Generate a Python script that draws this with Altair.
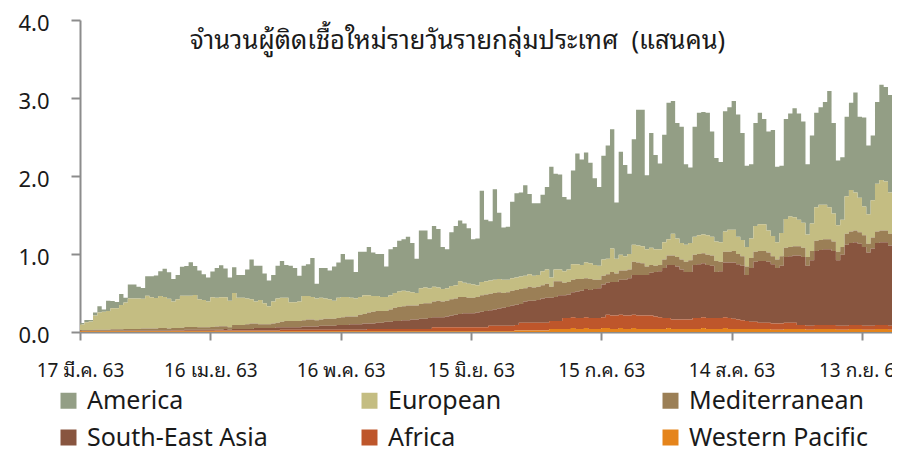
import json
from datetime import datetime

import altair as alt
import pandas as pd

# ---------------- data (units: 100,000 persons) ----------------
start_date = "2020-03-17"

title_text = "จำนวนผู้ติดเชื้อใหม่รายวันรายกลุ่มประเทศ\u00a0\u00a0(แสนคน)"

regions = ["America", "European", "Mediterranean",
           "South-East Asia", "Africa", "Western Pacific"]
region_colors = ["#939E85", "#C4BD82", "#9B7F56", "#88553F", "#BE562B", "#E5841B"]
# stacking position from the bottom
stack_position = ["Western Pacific", "Africa", "South-East Asia",
                  "Mediterranean", "European", "America"]

tick_dates = ["2020-03-17", "2020-04-16", "2020-05-16", "2020-06-15",
              "2020-07-15", "2020-08-14", "2020-09-13"]
tick_labels = ["17 มี.ค. 63", "16 เม.ย. 63", "16 พ.ค. 63", "15 มิ.ย. 63",
               "15 ก.ค. 63", "14 ส.ค. 63", "13 ก.ย. 63"]
y_ticks = [0, 1, 2, 3, 4]

america = [
    0.02, 0.03, 0.02, 0.04, 0.08, 0.03, 0.13,
    0.09, 0.08, 0.14, 0.06, 0.18, 0.18, 0.15,
    0.14, 0.25, 0.27, 0.29, 0.32, 0.36, 0.34,
    0.29, 0.31, 0.37, 0.38, 0.43, 0.37, 0.37,
    0.33, 0.31, 0.33, 0.38, 0.41, 0.37, 0.30,
    0.33, 0.29, 0.29, 0.37, 0.51, 0.46, 0.44,
    0.38, 0.33, 0.34, 0.42, 0.47, 0.42, 0.47,
    0.44, 0.33, 0.39, 0.41, 0.50, 0.19, 0.38,
    0.39, 0.37, 0.44, 0.45, 0.55, 0.48, 0.49,
    0.34, 0.58, 0.56, 0.62, 0.56, 0.54, 0.55,
    0.39, 0.59, 0.59, 0.65, 0.66, 0.70, 0.63,
    0.44, 0.74, 0.73, 0.63, 0.78, 0.75, 0.54,
    0.50, 0.69, 0.76, 0.78, 0.76, 0.71, 0.58,
    0.60, 1.17, 0.79, 0.76, 1.16, 0.85, 0.67,
    0.68, 0.98, 1.08, 1.08, 1.16, 1.03, 0.93,
    0.92, 0.98, 1.06, 1.42, 1.23, 1.22, 0.95,
    0.90, 1.20, 1.42, 1.35, 1.41, 1.29, 1.11,
    1.01, 1.33, 1.45, 1.53, 0.72, 1.32, 1.17,
    1.03, 1.35, 1.74, 1.75, 0.95, 1.47, 1.21,
    1.10, 1.38, 1.75, 1.70, 1.48, 1.49, 1.03,
    0.97, 1.41, 1.57, 1.57, 1.57, 1.35, 1.07,
    1.03, 1.54, 1.57, 1.65, 1.57, 1.37, 1.04,
    0.95, 1.32, 1.43, 1.35, 1.27, 1.36, 0.97,
    0.86, 1.28, 1.32, 1.40, 1.36, 1.30, 0.90,
    1.13, 1.21, 1.25, 1.32, 1.49, 1.16, 0.83,
    0.80, 1.02, 1.12, 1.28, 1.04, 1.14, 0.88,
    0.83, 1.05, 1.22, 1.21, 1.25, 1.07, 0.60,
]

european = [
    0.07, 0.10, 0.11, 0.18, 0.22, 0.23, 0.24,
    0.27, 0.27, 0.31, 0.34, 0.39, 0.39, 0.39,
    0.38, 0.42, 0.40, 0.39, 0.41, 0.40, 0.38,
    0.34, 0.37, 0.41, 0.40, 0.40, 0.41, 0.36,
    0.35, 0.33, 0.38, 0.37, 0.37, 0.37, 0.34,
    0.41, 0.35, 0.35, 0.33, 0.31, 0.28, 0.31,
    0.27, 0.23, 0.28, 0.31, 0.31, 0.30, 0.24,
    0.24, 0.25, 0.31, 0.30, 0.29, 0.28, 0.28,
    0.26, 0.25, 0.23, 0.26, 0.26, 0.25, 0.24,
    0.23, 0.23, 0.24, 0.22, 0.20, 0.19, 0.18,
    0.18, 0.18, 0.19, 0.20, 0.20, 0.18, 0.17,
    0.16, 0.20, 0.20, 0.19, 0.19, 0.17, 0.16,
    0.16, 0.17, 0.17, 0.20, 0.18, 0.18, 0.17,
    0.15, 0.17, 0.17, 0.17, 0.17, 0.17, 0.17,
    0.16, 0.16, 0.16, 0.16, 0.16, 0.16, 0.15,
    0.15, 0.18, 0.18, 0.12, 0.15, 0.15, 0.15,
    0.16, 0.20, 0.19, 0.18, 0.20, 0.20, 0.19,
    0.18, 0.21, 0.20, 0.30, 0.19, 0.20, 0.18,
    0.20, 0.22, 0.22, 0.22, 0.22, 0.22, 0.21,
    0.20, 0.22, 0.21, 0.28, 0.24, 0.21, 0.22,
    0.22, 0.23, 0.24, 0.24, 0.25, 0.24, 0.25,
    0.25, 0.26, 0.28, 0.27, 0.22, 0.21, 0.25,
    0.25, 0.33, 0.34, 0.34, 0.28, 0.26, 0.22,
    0.30, 0.37, 0.39, 0.37, 0.34, 0.32, 0.29,
    0.35, 0.43, 0.45, 0.44, 0.41, 0.36, 0.34,
    0.35, 0.48, 0.53, 0.49, 0.44, 0.37, 0.38,
    0.48, 0.61, 0.65, 0.63, 0.53, 0.51, 0.50,
]

mediterranean = [
    0.010, 0.010, 0.010, 0.015, 0.015, 0.015, 0.015,
    0.020, 0.020, 0.020, 0.020, 0.020, 0.020, 0.020,
    0.025, 0.025, 0.025, 0.025, 0.030, 0.030, 0.025,
    0.030, 0.030, 0.035, 0.035, 0.035, 0.035, 0.030,
    0.030, 0.030, 0.035, 0.040, 0.045, 0.035, 0.030,
    0.05, 0.05, 0.05, 0.06, 0.07, 0.06, 0.05,
    0.05, 0.05, 0.06, 0.06, 0.07, 0.08, 0.08,
    0.08, 0.08, 0.08, 0.09, 0.09, 0.08, 0.08,
    0.09, 0.09, 0.09, 0.09, 0.10, 0.11, 0.10,
    0.10, 0.12, 0.12, 0.14, 0.15, 0.15, 0.15,
    0.14, 0.16, 0.17, 0.18, 0.18, 0.19, 0.18,
    0.18, 0.19, 0.20, 0.19, 0.20, 0.21, 0.20,
    0.20, 0.21, 0.21, 0.22, 0.21, 0.20, 0.20,
    0.20, 0.21, 0.21, 0.21, 0.21, 0.21, 0.19,
    0.19, 0.19, 0.19, 0.19, 0.17, 0.18, 0.17,
    0.17, 0.17, 0.18, 0.14, 0.20, 0.18, 0.16,
    0.16, 0.16, 0.16, 0.15, 0.14, 0.14, 0.12,
    0.11, 0.11, 0.11, 0.13, 0.11, 0.12, 0.12,
    0.11, 0.17, 0.16, 0.15, 0.11, 0.10, 0.08,
    0.08, 0.11, 0.12, 0.12, 0.12, 0.13, 0.13,
    0.15, 0.13, 0.13, 0.13, 0.13, 0.13, 0.14,
    0.12, 0.14, 0.14, 0.15, 0.13, 0.12, 0.11,
    0.13, 0.13, 0.13, 0.13, 0.12, 0.10, 0.11,
    0.12, 0.12, 0.12, 0.12, 0.12, 0.12, 0.11,
    0.12, 0.13, 0.13, 0.13, 0.13, 0.12, 0.11,
    0.10, 0.14, 0.15, 0.15, 0.15, 0.15, 0.11,
    0.14, 0.15, 0.15, 0.15, 0.15, 0.13, 0.12,
]

south_east_asia = [
    0.003, 0.003, 0.003, 0.003, 0.003, 0.003, 0.003,
    0.004, 0.004, 0.004, 0.004, 0.004, 0.006, 0.006,
    0.006, 0.006, 0.006, 0.006, 0.006, 0.006, 0.006,
    0.005, 0.005, 0.005, 0.014, 0.014, 0.014, 0.014,
    0.014, 0.014, 0.014, 0.010, 0.010, 0.020, 0.010,
    0.02, 0.02, 0.02, 0.02, 0.02, 0.03, 0.03,
    0.03, 0.03, 0.03, 0.04, 0.03, 0.03, 0.03,
    0.03, 0.03, 0.04, 0.04, 0.04, 0.04, 0.05,
    0.05, 0.05, 0.05, 0.06, 0.06, 0.06, 0.07,
    0.07, 0.07, 0.08, 0.07, 0.07, 0.08, 0.08,
    0.09, 0.09, 0.10, 0.10, 0.11, 0.11, 0.12,
    0.12, 0.13, 0.13, 0.14, 0.13, 0.13, 0.13,
    0.14, 0.15, 0.16, 0.17, 0.18, 0.18, 0.18,
    0.19, 0.20, 0.21, 0.20, 0.21, 0.22, 0.23,
    0.24, 0.26, 0.26, 0.24, 0.27, 0.28, 0.28,
    0.29, 0.31, 0.32, 0.30, 0.31, 0.33, 0.29,
    0.30, 0.32, 0.34, 0.35, 0.36, 0.36, 0.37,
    0.38, 0.42, 0.41, 0.43, 0.43, 0.45, 0.46,
    0.48, 0.51, 0.52, 0.52, 0.52, 0.55, 0.57,
    0.59, 0.64, 0.68, 0.70, 0.68, 0.64, 0.61,
    0.61, 0.68, 0.69, 0.69, 0.68, 0.67, 0.59,
    0.60, 0.70, 0.71, 0.72, 0.71, 0.70, 0.59,
    0.69, 0.77, 0.79, 0.79, 0.78, 0.76, 0.71,
    0.74, 0.84, 0.85, 0.86, 0.89, 0.87, 0.77,
    0.84, 0.95, 0.96, 0.97, 0.97, 0.95, 0.84,
    0.91, 1.04, 1.05, 1.06, 1.04, 1.01, 0.94,
    0.99, 1.05, 1.06, 1.06, 1.03, 0.92, 0.89,
]

africa = [
    0.002, 0.002, 0.002, 0.002, 0.002, 0.002, 0.002,
    0.002, 0.002, 0.002, 0.004, 0.004, 0.004, 0.004,
    0.004, 0.004, 0.004, 0.004, 0.004, 0.004, 0.004,
    0.006, 0.006, 0.006, 0.006, 0.006, 0.006, 0.006,
    0.006, 0.006, 0.006, 0.010, 0.010, 0.010, 0.010,
    0.010, 0.010, 0.010, 0.010, 0.010, 0.010, 0.010,
    0.010, 0.010, 0.010, 0.010, 0.020, 0.020, 0.020,
    0.02, 0.02, 0.02, 0.02, 0.02, 0.02, 0.02,
    0.02, 0.02, 0.02, 0.02, 0.02, 0.02, 0.02,
    0.02, 0.02, 0.02, 0.03, 0.03, 0.03, 0.03,
    0.03, 0.03, 0.03, 0.03, 0.03, 0.03, 0.03,
    0.03, 0.03, 0.03, 0.03, 0.05, 0.05, 0.05,
    0.05, 0.05, 0.05, 0.05, 0.05, 0.05, 0.05,
    0.05, 0.05, 0.05, 0.07, 0.07, 0.07, 0.07,
    0.07, 0.07, 0.07, 0.10, 0.10, 0.10, 0.10,
    0.10, 0.10, 0.10, 0.10, 0.10, 0.10, 0.14,
    0.14, 0.14, 0.14, 0.14, 0.14, 0.14, 0.14,
    0.14, 0.14, 0.17, 0.17, 0.17, 0.17, 0.17,
    0.17, 0.17, 0.17, 0.17, 0.17, 0.17, 0.16,
    0.15, 0.14, 0.13, 0.12, 0.12, 0.12, 0.12,
    0.12, 0.14, 0.14, 0.14, 0.14, 0.14, 0.14,
    0.14, 0.14, 0.14, 0.13, 0.12, 0.11, 0.10,
    0.09, 0.09, 0.08, 0.08, 0.08, 0.08, 0.08,
    0.08, 0.08, 0.08, 0.08, 0.05, 0.05, 0.05,
    0.05, 0.05, 0.05, 0.05, 0.05, 0.05, 0.05,
    0.05, 0.05, 0.05, 0.05, 0.05, 0.05, 0.05,
    0.05, 0.05, 0.05, 0.05, 0.05, 0.05, 0.05,
]

western_pacific = [
    0.01, 0.01, 0.01, 0.01, 0.01, 0.01, 0.01,
    0.01, 0.01, 0.01, 0.01, 0.01, 0.01, 0.01,
    0.01, 0.01, 0.01, 0.01, 0.01, 0.01, 0.01,
    0.01, 0.01, 0.01, 0.01, 0.01, 0.01, 0.01,
    0.01, 0.01, 0.01, 0.01, 0.01, 0.01, 0.01,
    0.01, 0.01, 0.01, 0.01, 0.01, 0.01, 0.01,
    0.01, 0.01, 0.01, 0.01, 0.01, 0.01, 0.01,
    0.01, 0.01, 0.01, 0.01, 0.01, 0.01, 0.01,
    0.01, 0.01, 0.01, 0.01, 0.01, 0.01, 0.01,
    0.01, 0.01, 0.01, 0.01, 0.01, 0.01, 0.01,
    0.01, 0.01, 0.01, 0.01, 0.01, 0.01, 0.01,
    0.01, 0.01, 0.01, 0.01, 0.01, 0.01, 0.01,
    0.01, 0.01, 0.01, 0.01, 0.01, 0.01, 0.01,
    0.01, 0.01, 0.01, 0.01, 0.01, 0.01, 0.01,
    0.01, 0.01, 0.02, 0.02, 0.02, 0.02, 0.02,
    0.02, 0.02, 0.02, 0.04, 0.04, 0.04, 0.04,
    0.04, 0.05, 0.04, 0.04, 0.05, 0.04, 0.04,
    0.04, 0.05, 0.05, 0.04, 0.04, 0.05, 0.04,
    0.04, 0.05, 0.04, 0.04, 0.04, 0.04, 0.04,
    0.04, 0.04, 0.05, 0.04, 0.04, 0.04, 0.04,
    0.04, 0.04, 0.04, 0.05, 0.04, 0.04, 0.04,
    0.04, 0.05, 0.04, 0.04, 0.04, 0.04, 0.04,
    0.04, 0.04, 0.04, 0.04, 0.04, 0.03, 0.03,
    0.03, 0.04, 0.04, 0.04, 0.04, 0.04, 0.03,
    0.03, 0.04, 0.04, 0.04, 0.04, 0.04, 0.03,
    0.03, 0.03, 0.04, 0.04, 0.04, 0.03, 0.03,
    0.03, 0.04, 0.04, 0.04, 0.03, 0.03, 0.03,
]

series = {
    "America": america,
    "European": european,
    "Mediterranean": mediterranean,
    "South-East Asia": south_east_asia,
    "Africa": africa,
    "Western Pacific": western_pacific,
}

# ---------------- table ----------------
dates = pd.date_range(start_date, periods=len(america), freq="D")
rows = []
for name, values in series.items():
    for d, v in zip(dates, values):
        rows.append({"date": d, "region": name, "value": v,
                     "pos": stack_position.index(name)})
df = pd.DataFrame(rows)


def dt(s, **extra):
    p = datetime.strptime(s, "%Y-%m-%d")
    return alt.DateTime(year=p.year, month=p.month, date=p.day, **extra)


tick_values = [dt(s) for s in tick_dates]
label_expr = (
    json.dumps(tick_labels, ensure_ascii=False)
    + "[indexof(" + json.dumps(tick_dates) + ", timeFormat(datum.value, '%Y-%m-%d'))]"
)

THAI_FONT = ("'Noto Sans Thai Looped', Loma, Garuda, Waree, Tahoma, "
             "'Leelawadee UI', 'Noto Sans', sans-serif")
LATIN_FONT = "'Noto Sans', 'Open Sans', sans-serif"
AXIS_GREY = "#8c8c8c"
TEXT = "#1a1a1a"

x_domain = [dt("2020-03-17"), dt("2020-09-19", hours=22)]

chart = (
    alt.Chart(df)
    .mark_area(interpolate="step-after", clip=True)
    .encode(
        x=alt.X(
            "date:T",
            scale=alt.Scale(domain=x_domain),
            axis=alt.Axis(
                title=None, values=tick_values, labelExpr=label_expr,
                labelFlush=False, labelOverlap=False, grid=False,
                tickSize=8, tickWidth=2, tickColor=AXIS_GREY,
                domainColor=AXIS_GREY, domainWidth=2,
                labelFontSize=19, labelColor=TEXT, labelFont=THAI_FONT,
                labelPadding=21, labelBaseline="top",
            ),
        ),
        y=alt.Y(
            "value:Q",
            stack="zero",
            scale=alt.Scale(domain=[0, 4], nice=False),
            axis=alt.Axis(
                title=None, values=y_ticks, format=".1f", grid=False,
                tickSize=9, tickWidth=2, tickColor=AXIS_GREY,
                domainColor=AXIS_GREY, domainWidth=2,
                labelFontSize=22, labelColor=TEXT, labelFont=LATIN_FONT,
                labelPadding=22, labelOffset=3,
            ),
        ),
        color=alt.Color(
            "region:N",
            scale=alt.Scale(domain=regions, range=region_colors),
            legend=alt.Legend(
                title=None, orient="none", legendX=-24, legendY=368,
                direction="horizontal", columns=3, gridAlign="all",
                symbolType="square", symbolSize=256, symbolStrokeWidth=0,
                symbolOpacity=1,
                labelFontSize=25, labelFont=LATIN_FONT, labelColor=TEXT,
                labelOffset=6, columnPadding=89, rowPadding=11, labelLimit=0,
            ),
        ),
        order=alt.Order("pos:Q", sort="ascending"),
    )
    .properties(
        width=812,
        height=312,
        padding={"left": 72, "top": 12, "right": 0, "bottom": 117},
        autosize=alt.AutoSizeParams(type="none"),
        title=alt.TitleParams(
            text=title_text, anchor="start", frame="group", dx=110, dy=62,
            offset=0, fontSize=25.5, fontWeight="normal", font=THAI_FONT,
            color=TEXT, baseline="alphabetic",
        ),
    )
    .configure_view(stroke=None)
    .configure_legend(gridAlign="all")
)

chart.save("out.html", embed_options={"renderer": "svg", "actions": False})
